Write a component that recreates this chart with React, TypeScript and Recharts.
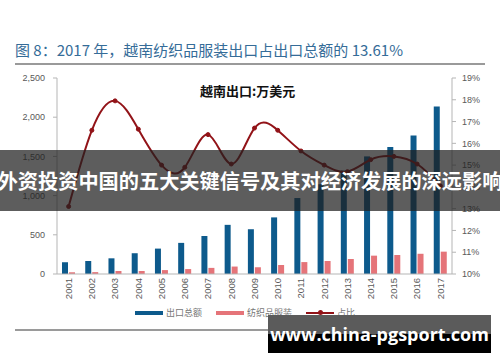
import { ComposedChart, Bar, Line, XAxis, YAxis } from "recharts";

const years = [
  "2001", "2002", "2003", "2004", "2005", "2006", "2007", "2008", "2009",
  "2010", "2011", "2012", "2013", "2014", "2015", "2016", "2017",
];
const exportTotal = [150, 166, 200, 265, 324, 397, 485, 627, 571, 722, 969, 1145, 1320, 1500, 1620, 1765, 2135];
const textile = [22, 24, 38, 38, 50, 63, 78, 95, 85, 115, 152, 166, 191, 234, 242, 258, 285];
const ratio = [13.1, 16.6, 17.95, 16.65, 15.0, 14.9, 16.4, 15.05, 16.7, 16.6, 15.65, 15.0, 14.7, 15.25, 15.4, 15.05, 14.05];

const leftTicks = [0, 500, 1000, 1500, 2000, 2500];
const rightTicks = [10, 11, 12, 13, 14, 15, 16, 17, 18, 19];

const data = years.map((y, i) => ({
  year: y,
  total: exportTotal[i],
  textile: textile[i],
  ratio: ratio[i],
}));

const BLUE = "#0d5a8c";
const PINK = "#e57479";
const RED = "#921318";
const AXIS_TEXT = { fill: "#595959", fontSize: 9, fontFamily: "Liberation Sans, Arial, sans-serif" };

const YearTick = (props: any) => {
  const { x, payload } = props;
  const y = 278;
  return (
    <text
      x={x}
      y={y}
      dy="0.35em"
      transform={`rotate(-90 ${x} ${y})`}
      textAnchor="end"
      fill="#595959"
      fontSize={9.5}
      fontFamily="Liberation Sans, Arial, sans-serif"
    >
      {payload.value}
    </text>
  );
};

const cjk = "'Noto Sans CJK SC', 'Noto Sans', sans-serif";

export default function App() {
  return (
    <div style={{ position: "relative", width: 500, height: 362, background: "#fff", overflow: "hidden" }}>
      <style>{`body{margin:0}`}</style>

      <div
        style={{
          position: "absolute",
          left: 15,
          top: 39,
          fontFamily: cjk,
          fontSize: 15,
          color: "#356c98",
          whiteSpace: "nowrap",
        }}
      >
        图 8：2017 年，越南纺织品服装出口占出口总额的 13.61%
      </div>
      <div style={{ position: "absolute", left: 15, top: 63, width: 470, height: 2, background: "#9a9a9a" }} />

      <ComposedChart
        width={500}
        height={362}
        data={data}
        margin={{ top: 78, right: 0, bottom: 58, left: 0 }}
        barGap={1}
        style={{ position: "absolute", left: 0, top: 0 }}
      >
        <XAxis
          dataKey="year"
          interval={0}
          height={30}
          tick={<YearTick />}
          tickLine={false}
          axisLine={{ stroke: "#b5b5b5" }}
        />
        <YAxis
          yAxisId="left"
          domain={[0, 2500]}
          ticks={leftTicks}
          width={57}
          tick={AXIS_TEXT}
          tickSize={4}
          tickMargin={8}
          tickLine={{ stroke: "#b5b5b5" }}
          axisLine={{ stroke: "#b5b5b5" }}
          tickFormatter={(v: number) => v.toLocaleString("en-US")}
        />
        <YAxis
          yAxisId="right"
          orientation="right"
          domain={[10, 19]}
          ticks={rightTicks}
          width={48}
          tick={AXIS_TEXT}
          tickSize={4}
          tickMargin={6}
          tickLine={{ stroke: "#b5b5b5" }}
          axisLine={{ stroke: "#b5b5b5" }}
          tickFormatter={(v: number) => `${v}%`}
        />
        <Bar yAxisId="left" dataKey="total" fill={BLUE} barSize={6} isAnimationActive={false} />
        <Bar yAxisId="left" dataKey="textile" fill={PINK} barSize={6} isAnimationActive={false} />
        <Line
          yAxisId="right"
          type="natural"
          dataKey="ratio"
          stroke={RED}
          strokeWidth={2}
          dot={{ r: 2, fill: RED, stroke: RED, strokeWidth: 1 }}
          isAnimationActive={false}
        />
      </ComposedChart>

      <div
        style={{
          position: "absolute",
          left: 200,
          top: 81,
          fontFamily: cjk,
          fontWeight: 700,
          fontSize: 13,
          color: "#111",
          whiteSpace: "nowrap",
        }}
      >
        越南出口:万美元
      </div>

      {/* legend */}
      <div
        style={{
          position: "absolute",
          left: 135,
          top: 306,
          display: "flex",
          alignItems: "center",
          fontFamily: cjk,
          fontSize: 9,
          color: "#777",
          whiteSpace: "nowrap",
        }}
      >
        <span style={{ display: "inline-block", width: 28, height: 4, background: BLUE, marginRight: 3 }} />
        <span style={{ marginRight: 14 }}>出口总额</span>
        <span style={{ display: "inline-block", width: 28, height: 4, background: PINK, marginRight: 3 }} />
        <span style={{ marginRight: 14 }}>纺织品服装</span>
        <span style={{ position: "relative", display: "inline-block", width: 28, height: 2, background: RED, marginRight: 3 }}>
          <span
            style={{
              position: "absolute",
              left: 12,
              top: -1.5,
              width: 5,
              height: 5,
              borderRadius: 3,
              background: RED,
            }}
          />
        </span>
        <span>占比</span>
      </div>
      <div style={{ position: "absolute", left: 15, top: 329, width: 470, height: 1.5, background: "#9a9a9a" }} />

      {/* overlay banner */}
      <div
        style={{
          position: "absolute",
          left: 0,
          top: 150,
          width: 500,
          height: 61,
          background: "rgba(30,30,30,0.72)",
        }}
      />
      <div
        style={{
          position: "absolute",
          left: 0,
          top: 150,
          width: 500,
          height: 61,
          display: "flex",
          alignItems: "center",
          justifyContent: "center",
          fontFamily: cjk,
          fontWeight: 700,
          fontSize: 20.2,
          color: "#fff",
          whiteSpace: "nowrap",
        }}
      >
        外资投资中国的五大关键信号及其对经济发展的深远影响
      </div>

      {/* watermark */}
      <div style={{ position: "absolute", left: 268, top: 315, width: 223, height: 19, background: "#5b5b5b" }} />
      <div style={{ position: "absolute", left: 268, top: 334, width: 223, height: 19, background: "#000" }} />
      <div
        style={{
          position: "absolute",
          left: 268,
          top: 315,
          width: 223,
          height: 38,
          display: "flex",
          alignItems: "center",
          justifyContent: "center",
          fontFamily: "'Open Sans', 'Noto Sans', sans-serif",
          fontWeight: 700,
          fontSize: 18,
          color: "#fff",
          whiteSpace: "nowrap",
        }}
      >
        www.china-pgsport.com
      </div>
    </div>
  );
}
